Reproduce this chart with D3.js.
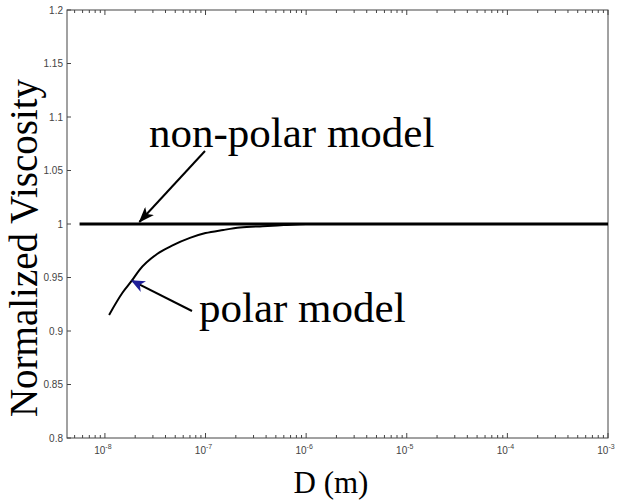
<!DOCTYPE html>
<html>
<head>
<meta charset="utf-8">
<script src="https://cdn.jsdelivr.net/npm/d3@7"></script>
<style>
  body { margin: 0; background: #fff; }
  svg { display: block; }
</style>
</head>
<body>
<svg id="chart" width="618" height="503"></svg>
<script>
// values
var yTicks = [0.8, 0.85, 0.9, 0.95, 1, 1.05, 1.1, 1.15, 1.2]
var xDecades = [-8, -7, -6, -5, -4, -3]

var nonPolarD = [5.6e-9, 1e-3]
var nonPolarV = [1.0, 1.0]

var polarD = [1.1e-8, 1.5e-8, 1.85e-8, 2.2e-8, 3.3e-8, 4.7e-8, 7e-8, 1.0e-7, 1.5e-7, 2.2e-7, 3.7e-7, 6e-7, 1e-6, 1e-5, 1e-4, 1e-3]
var polarV = [0.915, 0.936, 0.947, 0.957, 0.972, 0.980, 0.987, 0.9915, 0.9944, 0.9967, 0.998, 0.999, 1.0, 1.0, 1.0, 1.0]

!(function(){
    "use strict"

    var svg = d3.select("#chart")
    var left = 67, right = 608, top = 10, bottom = 438

    var x = d3.scaleLog().domain([4.2e-9, 1e-3]).range([left, right])
    var y = d3.scaleLinear().domain([0.8, 1.2]).range([bottom, top])

    var defs = svg.append("defs")
    defs.append("marker").attr("id", "headBlack")
        .attr("viewBox", "0 0 16 12").attr("refX", 15).attr("refY", 6)
        .attr("markerWidth", 16).attr("markerHeight", 12)
        .attr("markerUnits", "userSpaceOnUse").attr("orient", "auto")
        .append("path").attr("d", "M0,0 L16,6 L0,12 L4,6 Z").attr("fill", "#000")
    defs.append("marker").attr("id", "headBlue")
        .attr("viewBox", "0 0 14 12").attr("refX", 13).attr("refY", 6)
        .attr("markerWidth", 14).attr("markerHeight", 12)
        .attr("markerUnits", "userSpaceOnUse").attr("orient", "auto")
        .append("path").attr("d", "M0,0 L14,6 L0,12 L4,6 Z").attr("fill", "#1f1f9a")

    // frame
    svg.append("rect")
        .attr("x", left).attr("y", top)
        .attr("width", right - left).attr("height", bottom - top)
        .attr("fill", "none").attr("stroke", "#444").attr("stroke-width", 1)

    // y ticks (inward) + labels
    var gy = svg.append("g")
    gy.selectAll("line").data(yTicks).enter().append("line")
        .attr("x1", left).attr("x2", left + 4)
        .attr("y1", function(d) { return y(d) }).attr("y2", function(d) { return y(d) })
        .attr("stroke", "#444")
    gy.selectAll("text").data(yTicks).enter().append("text")
        .attr("x", left - 4).attr("y", function(d) { return y(d) + 3.5 })
        .attr("text-anchor", "end")
        .attr("font-family", "Liberation Sans, Arial, sans-serif")
        .attr("font-size", 10).attr("fill", "#444")
        .text(function(d) { return d3.format("")(+d.toFixed(2)) })

    // x ticks: majors and minors on top and bottom, pointing in
    var minors = []
    xDecades.forEach(function(e) {
        for (var k = 1; k < 10; k++) {
            var v = k * Math.pow(10, e)
            if (v >= x.domain()[0] && v <= x.domain()[1]) minors.push({v: v, major: k === 1})
        }
    })
    for (var k = 5; k < 10; k++) minors.push({v: k * 1e-9, major: false})
    var gx = svg.append("g")
    gx.selectAll("line.b").data(minors).enter().append("line").attr("class", "b")
        .attr("x1", function(d) { return x(d.v) }).attr("x2", function(d) { return x(d.v) })
        .attr("y1", bottom).attr("y2", function(d) { return bottom - (d.major ? 5 : 3) })
        .attr("stroke", "#444")
    gx.selectAll("line.t").data(minors).enter().append("line").attr("class", "t")
        .attr("x1", function(d) { return x(d.v) }).attr("x2", function(d) { return x(d.v) })
        .attr("y1", top).attr("y2", function(d) { return top + (d.major ? 5 : 3) })
        .attr("stroke", "#444")

    var xl = gx.selectAll("text").data(xDecades).enter().append("text")
        .attr("x", function(d) { return x(Math.pow(10, d)) - 2 })
        .attr("y", bottom + 16)
        .attr("text-anchor", "middle")
        .attr("font-family", "Liberation Sans, Arial, sans-serif")
        .attr("font-size", 10).attr("fill", "#444")
    xl.append("tspan").text("10")
    xl.append("tspan").attr("dy", -5).attr("font-size", 7).text(function(d) { return "-" + (-d) })

    // curves
    var line = d3.line()
        .x(function(d) { return x(d[0]) })
        .y(function(d) { return y(d[1]) })
        .curve(d3.curveMonotoneX)

    svg.append("path")
        .datum(d3.zip(polarD, polarV))
        .attr("d", line)
        .attr("fill", "none").attr("stroke", "#000").attr("stroke-width", 2)

    svg.append("path")
        .datum(d3.zip(nonPolarD, nonPolarV))
        .attr("d", line)
        .attr("fill", "none").attr("stroke", "#000").attr("stroke-width", 3)

    // annotations
    svg.append("line")
        .attr("x1", 205).attr("y1", 151).attr("x2", x(2.2e-8)).attr("y2", y(1.0) - 2)
        .attr("stroke", "#000").attr("stroke-width", 2)
        .attr("marker-end", "url(#headBlack)")
    svg.append("line")
        .attr("x1", 192).attr("y1", 311).attr("x2", x(1.85e-8)).attr("y2", y(0.947))
        .attr("stroke", "#000").attr("stroke-width", 2)
        .attr("marker-end", "url(#headBlue)")

    svg.append("text")
        .attr("x", 149).attr("y", 147)
        .attr("font-family", "Liberation Serif, Times New Roman, serif")
        .attr("font-size", 43).attr("fill", "#000")
        .text("non-polar model")
    svg.append("text")
        .attr("x", 199).attr("y", 322)
        .attr("font-family", "Liberation Serif, Times New Roman, serif")
        .attr("font-size", 43).attr("fill", "#000")
        .text("polar model")

    // axis titles
    svg.append("text")
        .attr("transform", "translate(37,248) rotate(-90)")
        .attr("text-anchor", "middle")
        .attr("font-family", "Liberation Serif, Times New Roman, serif")
        .attr("font-size", 39).attr("fill", "#000")
        .text("Normalized Viscosity")
    svg.append("text")
        .attr("x", 331).attr("y", 493)
        .attr("text-anchor", "middle")
        .attr("font-family", "Liberation Serif, Times New Roman, serif")
        .attr("font-size", 31).attr("fill", "#000")
        .text("D (m)")
}());
</script>
</body>
</html>
